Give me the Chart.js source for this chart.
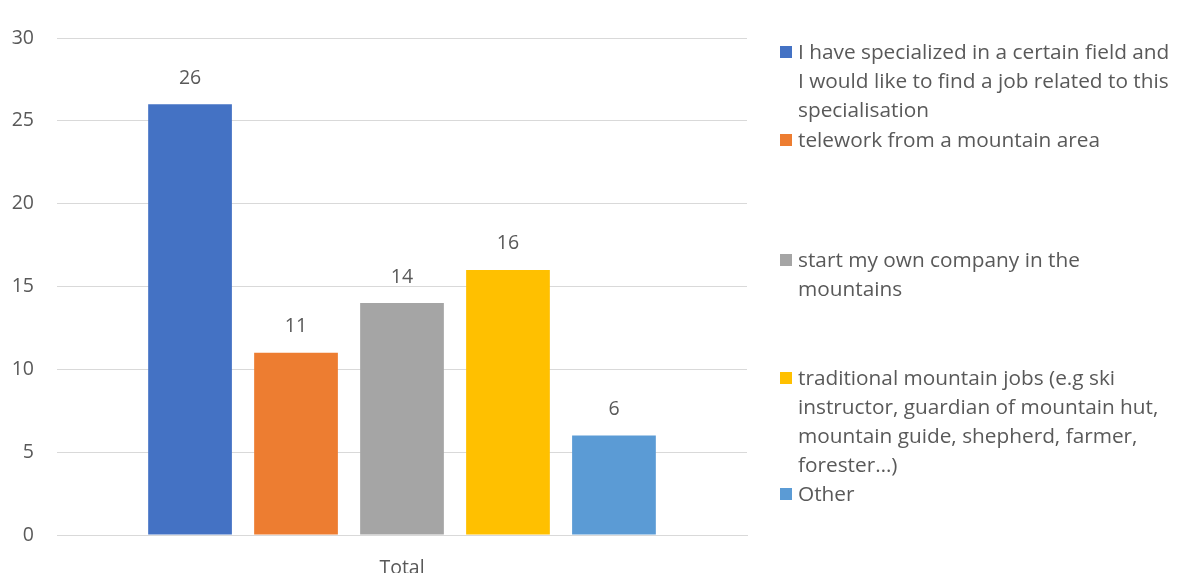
<!DOCTYPE html>
<html>
<head>
<meta charset="utf-8">
<script src="https://cdn.jsdelivr.net/npm/chart.js@4.4.1/dist/chart.umd.min.js"></script>
<style>
  body { margin: 0; background: #fff; font-family: "Open Sans", sans-serif; }
  #wrap { position: relative; width: 1179px; height: 573px; }
  #legend { position: absolute; left: 0; top: 0; }
  .item { position: absolute; left: 780px; color: #595959; font-size: 20.8px; line-height: 29px; }
  .box { position: absolute; left: 0; top: 9px; width: 12px; height: 12px; }
  .txt { margin-left: 18px; white-space: nowrap; }
</style>
</head>
<body>
<div id="wrap">
  <canvas id="chart" width="1179" height="573"></canvas>
  <div id="legend"></div>
</div>
<script>
// data
const categories = ['Total'];
const seriesNames = [
    ['I have specialized in a certain field and', 'I would like to find a job related to this', 'specialisation'],
    ['telework from a mountain area'],
    [' start my own company in the', 'mountains'],
    ['traditional mountain jobs (e.g ski', 'instructor, guardian of mountain hut,', 'mountain guide, shepherd, farmer,', 'forester\u2026)'],
    ['Other']
];
const seriesValues = [26, 11, 14, 16, 6];
const seriesColors = ['#4472c4', '#ed7d31', '#a5a5a5', '#ffc000', '#5b9bd5'];
const legendTops = [37, 125, 245, 363, 479];

const textColor = '#595959';
const fontFamily = '"Open Sans", sans-serif';

// build legend in html since the labels wrap
const legendEl = document.getElementById('legend');
seriesNames.forEach(function (lines, i) {
    const item = document.createElement('div');
    item.className = 'item';
    item.style.top = legendTops[i] + 'px';
    item.innerHTML = '<div class="box" style="background:' + seriesColors[i] + '"></div>' +
        '<div class="txt">' + lines.join('<br>') + '</div>';
    legendEl.appendChild(item);
});

// value labels above each bar
const valueLabels = {
    id: 'valueLabels',
    afterDatasetsDraw(chart) {
        const ctx = chart.ctx;
        ctx.save();
        ctx.fillStyle = textColor;
        ctx.font = '19.5px ' + fontFamily;
        ctx.textAlign = 'center';
        ctx.textBaseline = 'middle';
        chart.data.datasets.forEach(function (ds, i) {
            chart.getDatasetMeta(i).data.forEach(function (bar, j) {
                ctx.fillText(String(ds.data[j]), bar.x, bar.y - 26);
            });
        });
        ctx.restore();
    }
};

const ctx = document.getElementById('chart').getContext('2d');
const chart = new Chart(ctx, {
    type: 'bar',
    data: {
        labels: categories,
        datasets: seriesValues.map(function (v, i) {
            return {
                label: seriesNames[i].join(' '),
                data: [v],
                backgroundColor: seriesColors[i],
                borderWidth: 0,
                categoryPercentage: 0.768,
                barPercentage: 0.79
            };
        })
    },
    options: {
        responsive: false,
        animation: false,
        layout: { padding: { left: 0, top: 38, right: 432, bottom: 0 } },
        plugins: {
            legend: { display: false },
            tooltip: { enabled: false }
        },
        scales: {
            x: {
                grid: { display: false },
                border: { display: true, color: '#d9d9d9', width: 1 },
                ticks: { color: textColor, font: { family: fontFamily, size: 19.5 }, padding: 14 },
                afterFit(scale) { scale.height = 38; }
            },
            y: {
                min: 0,
                max: 30,
                grid: { color: '#d9d9d9', lineWidth: 1, drawTicks: false },
                border: { display: false },
                ticks: { stepSize: 5, color: textColor, font: { family: fontFamily, size: 19.5 }, padding: 23 },
                afterFit(scale) { scale.width = 57; }
            }
        }
    },
    plugins: [valueLabels]
});
</script>
</body>
</html>
